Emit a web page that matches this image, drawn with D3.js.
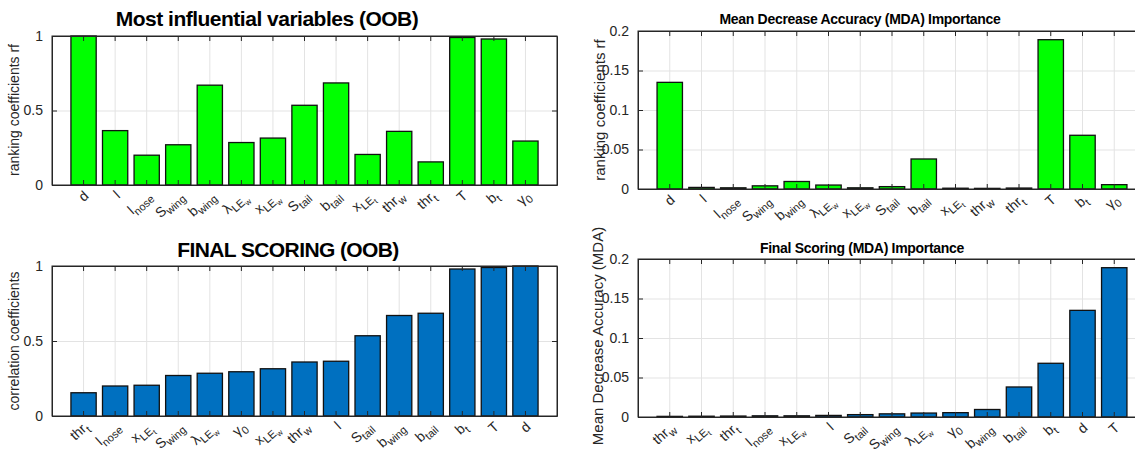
<!DOCTYPE html>
<html>
<head>
<meta charset="utf-8">
<script src="https://cdn.jsdelivr.net/npm/d3@7"></script>
<style>
  body { margin: 0; background: #fff; }
  svg { display: block; font-family: "Liberation Sans", Arial, sans-serif; }
  .grid line { stroke: #e3e3e3; }
  .grid path { display: none; }
  .axis path, .axis line { stroke: #262626; }
  .axis text { fill: #262626; font-size: 14px; }
</style>
</head>
<body>
<svg id="fig" width="1135" height="454"></svg>
<script>
// variables in original order
const variables = ['d','l','lnose','Swing','bwing','lamLEw','xLEw','Stail','btail','xLEt','thrw','thrt','T','bt','g0'];
const oobValues = [1.0, 0.365, 0.2, 0.27, 0.67, 0.285, 0.315, 0.535, 0.685, 0.205, 0.36, 0.155, 0.99, 0.98, 0.295];
const mdaValues = [0.135, 0.002, 0.0015, 0.004, 0.0095, 0.005, 0.0015, 0.003, 0.038, 0.001, 0.0008, 0.0012, 0.189, 0.068, 0.0055];

// final scoring (sorted)
const oobSortedVars = ['thrt','lnose','xLEt','Swing','lamLEw','g0','xLEw','thrw','l','Stail','bwing','btail','bt','T','d'];
const oobSortedValues = [0.155, 0.2, 0.205, 0.27, 0.285, 0.295, 0.315, 0.36, 0.365, 0.535, 0.67, 0.685, 0.98, 0.99, 1.0];
const mdaSortedVars = ['thrw','xLEt','thrt','lnose','xLEw','l','Stail','Swing','lamLEw','g0','bwing','btail','bt','d','T'];
const mdaSortedValues = [0.0008, 0.001, 0.0012, 0.0015, 0.0015, 0.002, 0.003, 0.004, 0.005, 0.0055, 0.0095, 0.038, 0.068, 0.135, 0.189];

const oobTicks = [0, 0.5, 1];
const mdaTicks = [0, 0.05, 0.1, 0.15, 0.2];

// tick label text: [base, subscript, sub-subscript]
const labelParts = {
  d: ['d'], l: ['l'], lnose: ['l', 'nose'], Swing: ['S', 'wing'], bwing: ['b', 'wing'],
  lamLEw: ['λ', 'LE', 'w'], xLEw: ['x', 'LE', 'w'], Stail: ['S', 'tail'], btail: ['b', 'tail'],
  xLEt: ['x', 'LE', 't'], thrw: ['thr', 'w'], thrt: ['thr', 't'], T: ['T'], bt: ['b', 't'], g0: ['γ', '0']
};

const svg = d3.select('#fig');

function drawPanel(cfg) {
  const g = svg.append('g');
  const x = d3.scaleBand()
    .domain(cfg.vars)
    .range([cfg.left, cfg.left + cfg.width])
    .paddingInner(0.2)
    .paddingOuter(0.6);
  const y = d3.scaleLinear()
    .domain([0, cfg.ymax])
    .range([cfg.top + cfg.height, cfg.top]);
  const bottom = cfg.top + cfg.height;

  /* grid */
  g.append('g').attr('class', 'grid')
    .attr('transform', 'translate(0,' + bottom + ')')
    .call(d3.axisBottom(x).tickSize(-cfg.height).tickFormat(''));
  g.append('g').attr('class', 'grid')
    .attr('transform', 'translate(' + cfg.left + ',0)')
    .call(d3.axisLeft(y).tickValues(cfg.ticks).tickSize(-cfg.width).tickFormat(''));

  /* bars */
  g.selectAll('rect.bar')
    .data(cfg.values)
    .enter()
    .append('rect')
    .attr('class', 'bar')
    .attr('x', (d, i) => x(cfg.vars[i]))
    .attr('y', d => y(d))
    .attr('width', x.bandwidth())
    .attr('height', d => bottom - y(d))
    .attr('fill', cfg.color)
    .attr('stroke', '#111')
    .attr('stroke-width', 1.3);

  /* box */
  g.append('rect')
    .attr('x', cfg.left).attr('y', cfg.top)
    .attr('width', cfg.width).attr('height', cfg.height)
    .attr('fill', 'none').attr('stroke', '#262626').attr('stroke-width', 1);

  /* axes */
  g.append('g').attr('class', 'axis')
    .attr('transform', 'translate(' + cfg.left + ',0)')
    .call(d3.axisLeft(y).tickValues(cfg.ticks).tickSize(-5).tickPadding(9).tickSizeOuter(0)
      .tickFormat(d3.format('~g')));
  g.append('g').attr('class', 'axis')
    .attr('transform', 'translate(' + (cfg.left + cfg.width) + ',0)')
    .call(d3.axisRight(y).tickValues(cfg.ticks).tickSize(-5).tickFormat('').tickSizeOuter(0));
  g.append('g').attr('class', 'axis')
    .attr('transform', 'translate(0,' + bottom + ')')
    .call(d3.axisBottom(x).tickSize(-5).tickFormat('').tickSizeOuter(0));
  g.append('g').attr('class', 'axis')
    .attr('transform', 'translate(0,' + cfg.top + ')')
    .call(d3.axisTop(x).tickSize(-5).tickFormat('').tickSizeOuter(0));

  /* rotated x labels */
  const labels = g.selectAll('text.xl')
    .data(cfg.vars)
    .enter()
    .append('text')
    .attr('class', 'xl')
    .attr('transform', d => 'translate(' + (x(d) + x.bandwidth() / 2 + 6) + ',' + (bottom + 12) + ') rotate(-42)')
    .attr('text-anchor', 'end')
    .attr('fill', '#262626')
    .style('font-size', '14px');
  labels.each(function(d) {
    const p = labelParts[d];
    const t = d3.select(this);
    t.append('tspan').text(p[0]);
    if (p[1]) t.append('tspan').attr('dy', 4).style('font-size', '11px').text(p[1]);
    if (p[2]) t.append('tspan').attr('dy', 3).style('font-size', '8px').text(p[2]);
  });

  /* title */
  svg.append('text')
    .attr('x', cfg.titleX)
    .attr('y', cfg.titleY)
    .attr('text-anchor', 'middle')
    .style('font-size', cfg.titleSize + 'px')
    .style('font-weight', 'bold')
    .style('letter-spacing', cfg.titleSpacing + 'px')
    .attr('fill', '#000')
    .text(cfg.title);

  /* y label */
  svg.append('text')
    .attr('transform', 'translate(' + cfg.ylabelX + ',' + cfg.ylabelY + ') rotate(-90)')
    .attr('text-anchor', 'middle')
    .style('font-size', cfg.ylabelSize + 'px')
    .attr('fill', '#262626')
    .text(cfg.ylabel);
}

drawPanel({
  left: 52, top: 36, width: 505, height: 149,
  vars: variables, values: oobValues, ticks: oobTicks, ymax: 1, color: '#00ff00',
  title: 'Most influential variables (OOB)', titleX: 267, titleY: 26, titleSize: 21, titleSpacing: -0.5,
  ylabel: 'ranking coefficients rf', ylabelX: 19, ylabelY: 110, ylabelSize: 14
});
drawPanel({
  left: 52, top: 266, width: 505, height: 150,
  vars: oobSortedVars, values: oobSortedValues, ticks: oobTicks, ymax: 1, color: '#0070c0',
  title: 'FINAL SCORING (OOB)', titleX: 288, titleY: 257, titleSize: 21, titleSpacing: -0.6,
  ylabel: 'correlation coefficients', ylabelX: 19, ylabelY: 341, ylabelSize: 14
});
drawPanel({
  left: 638, top: 31, width: 508, height: 158,
  vars: variables, values: mdaValues, ticks: mdaTicks, ymax: 0.2, color: '#00ff00',
  title: 'Mean Decrease Accuracy (MDA) Importance', titleX: 860, titleY: 24, titleSize: 14, titleSpacing: -0.3,
  ylabel: 'ranking coefficients rf', ylabelX: 605, ylabelY: 110, ylabelSize: 15
});
drawPanel({
  left: 638, top: 259, width: 508, height: 158,
  vars: mdaSortedVars, values: mdaSortedValues, ticks: mdaTicks, ymax: 0.2, color: '#0070c0',
  title: 'Final Scoring (MDA) Importance', titleX: 862, titleY: 253, titleSize: 14, titleSpacing: -0.3,
  ylabel: 'Mean Decrease Accuracy (MDA)', ylabelX: 603, ylabelY: 336, ylabelSize: 15
});
</script>
</body>
</html>
